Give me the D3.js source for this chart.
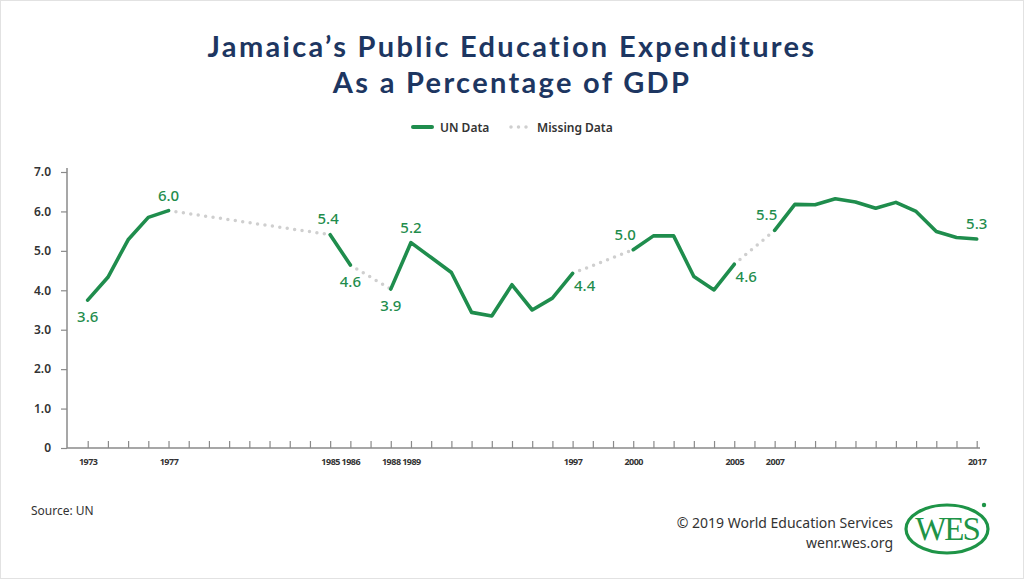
<!DOCTYPE html>
<html><head><meta charset="utf-8">
<script src="https://cdn.jsdelivr.net/npm/d3@7"></script>
<style>body{margin:0;background:#fff}svg{display:block}</style>
</head><body>
<svg id="c" width="1024" height="580"></svg>
<script>
const years = d3.range(1973, 2018);
// null = missing value (bridged with a dotted line)
const values = [3.75,4.33,5.28,5.85,6.02,null,null,null,null,null,null,null,5.41,4.64,null,4.03,5.21,4.83,4.45,3.44,3.35,4.14,3.50,3.80,4.43,null,null,5.03,5.38,5.38,4.35,4.01,4.66,null,5.52,6.18,6.17,6.32,6.24,6.08,6.23,6.00,5.49,5.34,5.30];
const yTicks = [0,1,2,3,4,5,6,7];
const xTickLabels = [1973,1977,1985,1986,1988,1989,1997,2000,2005,2007,2017];
const titleLines = ["Jamaica’s Public Education Expenditures", "As a Percentage of GDP"];
const pointLabels = [
  {year:1973, text:"3.6", pos:"below"},
  {year:1977, text:"6.0", pos:"above"},
  {year:1985, text:"5.4", pos:"aboveL"},
  {year:1986, text:"4.6", pos:"below"},
  {year:1988, text:"3.9", pos:"below"},
  {year:1989, text:"5.2", pos:"above"},
  {year:1997, text:"4.4", pos:"right"},
  {year:2000, text:"5.0", pos:"left"},
  {year:2005, text:"4.6", pos:"right"},
  {year:2007, text:"5.5", pos:"left"},
  {year:2017, text:"5.3", pos:"above"}
];
const green = "#1f8d4d";
const svg = d3.select("#c");
svg.append("rect").attr("x",0.5).attr("y",0.5).attr("width",1023).attr("height",578).attr("fill","#fff").attr("stroke","#e2e2e2");

const x = d3.scaleLinear().domain([1973,2017]).range([87.7,976.7]);
const y = d3.scaleLinear().domain([0,7]).range([448,172]);

// title (two separate lines)
const tt = svg.append("g").selectAll("text").data(titleLines).join("text")
  .attr("x",512).attr("y",(d,i)=> i===0 ? 57 : 93)
  .attr("text-anchor","middle").attr("fill","#1d3661")
  .style("font-family","Lato, sans-serif").style("font-weight","700").style("font-size","29px")
  .text(d=>d);
{
  const n0 = tt.nodes()[0];
  const L = n0.getComputedTextLength();
  const ls = Math.max(0, (607 - L) / (titleLines[0].length - 1));
  tt.style("letter-spacing", ls + "px");
}

// legend
const lg = svg.append("g").style("font-family","'Noto Sans', sans-serif").style("font-size","12px").style("font-weight","600").attr("fill","#333");
lg.append("line").attr("x1",413).attr("x2",432).attr("y1",127).attr("y2",127).attr("stroke",green).attr("stroke-width",4).attr("stroke-linecap","round");
lg.append("text").attr("x",440).attr("y",131.5).text("UN Data");
lg.append("line").attr("x1",511).attr("x2",527).attr("y1",127).attr("y2",127).attr("stroke","#cfcfcf").attr("stroke-width",3.5).attr("stroke-linecap","round").attr("stroke-dasharray","0 7.5");
lg.append("text").attr("x",537).attr("y",131.5).text("Missing Data");

// y axis
const yAxis = svg.append("g").attr("transform","translate(67,0)")
  .call(d3.axisLeft(y).tickValues(yTicks).tickSize(6).tickPadding(10).tickFormat(d=> d===0?"0":d3.format(".1f")(d)));
yAxis.select(".domain").attr("stroke","#8a8a8a").attr("stroke-width",1.5).attr("d","M0,168V448");
yAxis.selectAll(".tick line").attr("stroke","#8a8a8a").attr("stroke-width",1.2);
yAxis.selectAll(".tick text").attr("fill","#333").style("font-family","'Noto Sans', sans-serif").style("font-size","12px").style("font-weight","600");

// x axis
const xAxis = svg.append("g").attr("transform","translate(0,448)")
  .call(d3.axisTop(x).tickValues(years).tickSize(7).tickFormat(""));
xAxis.select(".domain").attr("stroke","#8a8a8a").attr("stroke-width",1.5).attr("d","M67,0H980");
xAxis.selectAll(".tick line").attr("stroke","#8a8a8a").attr("stroke-width",1.2);
const xl = svg.append("g").attr("transform","translate(0,448)")
  .call(d3.axisBottom(x).tickValues(xTickLabels).tickSize(0).tickPadding(11).tickFormat(d3.format("d")));
xl.select(".domain").remove();
xl.selectAll(".tick text").attr("fill","#333").style("font-family","'Noto Sans', sans-serif").style("font-size","9px").style("font-weight","700").style("letter-spacing","-0.5px");

// data
const pts = years.map((yr,i)=>({year:yr, v:values[i]}));
const valid = pts.filter(d=>d.v!==null);
const line = d3.line().x(d=>x(d.year)).y(d=>y(d.v));

// missing bridges
const gaps = [];
for (let i=1;i<valid.length;i++) if (valid[i].year - valid[i-1].year > 1) gaps.push([valid[i-1], valid[i]]);
svg.append("g").selectAll("path").data(gaps).join("path")
  .attr("d", line).attr("fill","none").attr("stroke","#cfcfcf").attr("stroke-width",3.5)
  .attr("stroke-linecap","round").attr("stroke-dasharray","0 7.5");

// solid segments
svg.append("path").datum(pts).attr("d", d3.line().defined(d=>d.v!==null).x(d=>x(d.year)).y(d=>y(d.v)))
  .attr("fill","none").attr("stroke",green).attr("stroke-width",3.6).attr("stroke-linejoin","round").attr("stroke-linecap","round");

// point labels
const off = {below:[0,22], above:[0,-10], aboveL:[-2,-11], right:[12,18], left:[-8,-10]};
svg.append("g").selectAll("text").data(pointLabels).join("text")
  .attr("x", d=>x(d.year)+off[d.pos][0])
  .attr("y", d=>y(values[d.year-1973])+off[d.pos][1])
  .attr("text-anchor","middle")
  .attr("fill", green).style("font-family","'Noto Sans', sans-serif").style("font-size","15px").style("font-weight","500")
  .text(d=>d.text);

// footer
const ft = svg.append("g").style("font-family","'Noto Sans', sans-serif").attr("fill","#333");
ft.append("text").attr("x",31).attr("y",515).style("font-size","12px").text("Source: UN");
ft.append("text").attr("x",893).attr("y",528).attr("text-anchor","end").style("font-size","14px").text("© 2019 World Education Services");
ft.append("text").attr("x",893).attr("y",548).attr("text-anchor","end").style("font-size","14px").text("wenr.wes.org");

// logo
const logo = svg.append("g");
logo.append("ellipse").attr("cx",947).attr("cy",529).attr("rx",41).attr("ry",24).attr("fill","none").attr("stroke","#1e9447").attr("stroke-width",3.2);
logo.append("text").attr("x",947).attr("y",540).attr("text-anchor","middle").attr("fill","#1e9447")
  .style("font-family","'Liberation Serif', serif").style("font-size","33px").style("letter-spacing","-2px").text("WES");
logo.append("circle").attr("cx",984).attr("cy",505).attr("r",2.2).attr("fill","#1e9447");
</script>
</body></html>
